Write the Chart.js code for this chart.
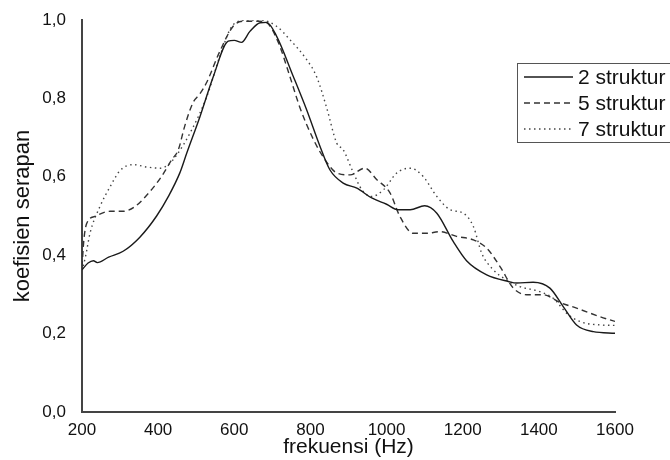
<!DOCTYPE html>
<html>
<head>
<meta charset="utf-8">
<script src="https://cdn.jsdelivr.net/npm/chart.js@4"></script>
<style>
  html, body { margin: 0; padding: 0; background: #fff; }
  #wrap { width: 670px; height: 460px; }
</style>
</head>
<body>
<div id="wrap"><canvas id="absorpChart" width="670" height="460"></canvas></div>
<script>
// frequency (Hz) and absorption coefficient
const freq2 = [200, 216, 230, 240, 270, 308, 352, 396, 427, 457, 475, 510, 545, 584, 600, 619, 641, 668, 685, 711, 755, 790, 825, 851, 886, 922, 961, 1000, 1030, 1062, 1100, 1132, 1175, 1210, 1263, 1320, 1342, 1385, 1429, 1464, 1499, 1543, 1600];
const val2 = [0.363, 0.38, 0.386, 0.381, 0.395, 0.41, 0.446, 0.50, 0.55, 0.61, 0.66, 0.754, 0.856, 0.946, 0.948, 0.943, 0.971, 0.993, 0.994, 0.959, 0.856, 0.771, 0.678, 0.618, 0.584, 0.571, 0.546, 0.53, 0.516, 0.516, 0.526, 0.507, 0.435, 0.386, 0.35, 0.333, 0.329, 0.331, 0.316, 0.269, 0.222, 0.205, 0.201];

const freq5 = [200, 205, 212, 234, 274, 308, 339, 379, 409, 436, 453, 470, 492, 510, 527, 562, 597, 624, 663, 685, 716, 746, 773, 808, 838, 869, 904, 943, 974, 1009, 1035, 1070, 1105, 1140, 1184, 1228, 1263, 1298, 1333, 1368, 1412, 1456, 1499, 1561, 1600];
const val5 = [0.37, 0.44, 0.48, 0.499, 0.512, 0.512, 0.524, 0.563, 0.601, 0.644, 0.669, 0.73, 0.79, 0.812, 0.84, 0.92, 0.984, 0.997, 0.997, 0.993, 0.942, 0.856, 0.775, 0.695, 0.644, 0.61, 0.605, 0.622, 0.593, 0.559, 0.499, 0.456, 0.456, 0.46, 0.448, 0.439, 0.418, 0.371, 0.316, 0.299, 0.299, 0.279, 0.265, 0.243, 0.231];

const freq7 = [200, 210, 221, 247, 274, 300, 335, 370, 405, 427, 449, 484, 528, 562, 597, 637, 668, 711, 746, 790, 816, 843, 869, 886, 913, 935, 961, 992, 1027, 1062, 1096, 1132, 1167, 1202, 1228, 1250, 1280, 1315, 1350, 1403, 1438, 1473, 1508, 1561, 1600];
const val7 = [0.36, 0.40, 0.456, 0.524, 0.575, 0.616, 0.631, 0.625, 0.622, 0.631, 0.656, 0.712, 0.805, 0.907, 0.988, 1.0, 1.0, 0.984, 0.95, 0.899, 0.856, 0.775, 0.686, 0.669, 0.61, 0.567, 0.55, 0.567, 0.61, 0.622, 0.601, 0.55, 0.516, 0.507, 0.473, 0.405, 0.363, 0.337, 0.32, 0.307, 0.29, 0.252, 0.231, 0.222, 0.221];

const seriesLabels = ['2 struktur', '5 struktur', '7 struktur'];
const xTicks = [200, 400, 600, 800, 1000, 1200, 1400, 1600];
const yTicks = [0, 0.2, 0.4, 0.6, 0.8, 1.0];

function pairs(xs, ys) {
  return xs.map((x, i) => ({ x: x, y: ys[i] }));
}

const FONT = '"Liberation Sans", Arial, sans-serif';

// draws the boxed legend inside the plot, top right
const boxLegend = {
  id: 'boxLegend',
  afterDraw(chart) {
    const c = chart.ctx;
    const left = 517, top = 63, w = 160, h = 79;
    c.save();
    c.fillStyle = '#fff';
    c.fillRect(left, top, w, h);
    c.strokeStyle = '#555';
    c.lineWidth = 1;
    c.strokeRect(left + 0.5, top + 0.5, w, h);
    c.font = '21px ' + FONT;
    c.textBaseline = 'middle';
    chart.data.datasets.forEach((ds, i) => {
      const y = top + 14 + i * 26;
      c.strokeStyle = ds.borderColor;
      c.lineWidth = ds.borderWidth;
      c.setLineDash(ds.borderDash || []);
      c.beginPath();
      c.moveTo(524, y);
      c.lineTo(573, y);
      c.stroke();
      c.setLineDash([]);
      c.fillStyle = '#111';
      c.fillText(ds.label, 578, y + 1);
    });
    c.restore();
  }
};

const ctx = document.getElementById('absorpChart').getContext('2d');
const chart = new Chart(ctx, {
  type: 'line',
  data: {
    datasets: [
      {
        label: seriesLabels[0],
        data: pairs(freq2, val2),
        borderColor: '#1a1a1a',
        borderWidth: 1.4,
        pointRadius: 0,
        cubicInterpolationMode: 'monotone',
        fill: false
      },
      {
        label: seriesLabels[1],
        data: pairs(freq5, val5),
        borderColor: '#333',
        borderWidth: 1.4,
        borderDash: [6, 4],
        pointRadius: 0,
        cubicInterpolationMode: 'monotone',
        fill: false
      },
      {
        label: seriesLabels[2],
        data: pairs(freq7, val7),
        borderColor: '#444',
        borderWidth: 1.4,
        borderDash: [1.5, 3.5],
        pointRadius: 0,
        cubicInterpolationMode: 'monotone',
        fill: false
      }
    ]
  },
  options: {
    responsive: false,
    animation: false,
    layout: { padding: { top: 20, right: 55, left: 0, bottom: 0 } },
    plugins: {
      legend: { display: false },
      tooltip: { enabled: false }
    },
    scales: {
      x: {
        type: 'linear',
        min: 200,
        max: 1600,
        afterBuildTicks: s => { s.ticks = xTicks.map(v => ({ value: v })); },
        afterFit: s => { s.height = 48; },
        grid: { display: false },
        border: { display: true, color: '#444', width: 2 },
        ticks: {
          color: '#111',
          font: { family: FONT, size: 17 },
          padding: 0,
          maxRotation: 0,
          callback: v => String(v)
        },
        title: {
          display: true,
          text: 'frekuensi (Hz)',
          color: '#111',
          font: { family: FONT, size: 21 },
          padding: { top: 0, bottom: 0 }
        }
      },
      y: {
        min: 0,
        max: 1,
        afterBuildTicks: s => { s.ticks = yTicks.map(v => ({ value: v })); },
        afterFit: s => { s.width = 82; },
        grid: { display: false },
        border: { display: true, color: '#444', width: 2 },
        ticks: {
          color: '#111',
          font: { family: FONT, size: 17 },
          padding: 8,
          callback: v => v.toFixed(1).replace('.', ',')
        },
        title: {
          display: true,
          text: 'koefisien serapan',
          color: '#111',
          font: { family: FONT, size: 22 },
          padding: { top: 10, bottom: 0 }
        }
      }
    }
  },
  plugins: [boxLegend]
});
</script>
</body>
</html>
